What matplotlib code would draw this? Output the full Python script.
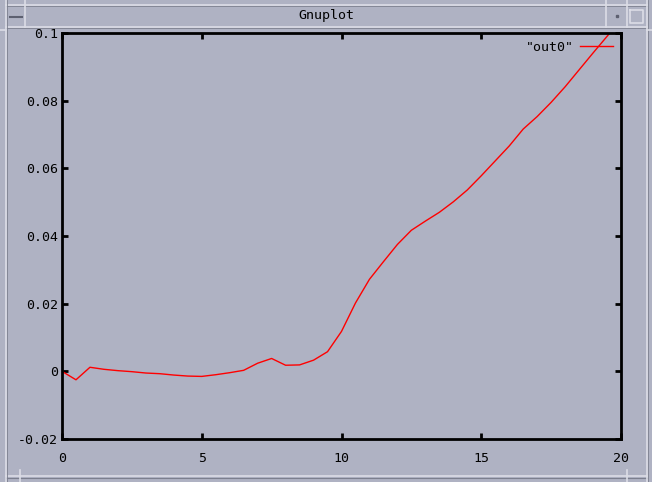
import matplotlib
matplotlib.use('Agg')
import matplotlib.pyplot as plt

# data
xs = [0, 0.5, 1, 1.5, 2, 2.5, 3, 3.5, 4, 4.5, 5, 5.5, 6, 6.5, 7, 7.5, 8, 8.5, 9, 9.5,
      10, 10.5, 11, 11.5, 12, 12.5, 13, 13.5, 14, 14.5, 15, 15.5, 16, 16.5, 17, 17.5,
      18, 18.5, 19, 19.5, 20]
out0 = [0.0, -0.0025, 0.0012, 0.0006, 0.0002, -0.0001, -0.0005, -0.0007, -0.0011, -0.0014,
        -0.0015, -0.0010, -0.0004, 0.0003, 0.0024, 0.0038, 0.0018, 0.0019, 0.0033, 0.0058,
        0.0118, 0.0202, 0.0272, 0.0324, 0.0375, 0.0417, 0.0444, 0.0470, 0.0501, 0.0536,
        0.0578, 0.0622, 0.0666, 0.0716, 0.0753, 0.0795, 0.0841, 0.0891, 0.0941, 0.0990,
        0.1040]
x_ticks = [0, 5, 10, 15, 20]
y_ticks = [-0.02, 0, 0.02, 0.04, 0.06, 0.08, 0.1]
y_labels = ['-0.02', '0', '0.02', '0.04', '0.06', '0.08', '0.1']

BG = '#afb2c3'
W, H = 652, 482

fig = plt.figure(figsize=(W / 100, H / 100), dpi=100, facecolor=BG)

# window decoration (title bar, frame)
deco = fig.add_axes([0, 0, 1, 1], zorder=0)
deco.set_xlim(0, W)
deco.set_ylim(H, 0)
deco.axis('off')
light = '#dcdde6'
dark = '#7c7f8e'
for y in [5, 27]:
    deco.plot([6, 647], [y, y], color=light, lw=1.2)
    deco.plot([6, 647], [y + 1.2, y + 1.2], color=dark, lw=0.6)
deco.plot([6, 647], [476, 476], color=light, lw=1.2)
deco.plot([6, 647], [477.5, 477.5], color=dark, lw=0.8)
for x in [6, 647]:
    deco.plot([x, x], [0, 482], color=light, lw=1.2)
    deco.plot([x + 1.2, x + 1.2], [0, 482], color=dark, lw=0.6)
for x in [25, 606, 627]:
    deco.plot([x, x], [0, 27], color=light, lw=1.2)
for x in [20, 627]:
    deco.plot([x, x], [470, 482], color=light, lw=1.2)
deco.plot([0, 6], [30, 30], color=light, lw=1.2)
deco.plot([647, 652], [30, 30], color=light, lw=1.2)
deco.plot([10, 22], [17, 17], color='#5d6070', lw=1.5)
deco.plot([630, 643, 643, 630, 630], [10, 10, 23, 23, 10], color=light, lw=1.2)
deco.plot([616.5], [15.5], marker='s', ms=2, color='#5d6070')
deco.text(326, 16, 'Gnuplot', ha='center', va='center', fontsize=9.5,
          family='DejaVu Sans Mono', color='black')

ax = fig.add_axes([62 / W, (H - 439) / H, (621 - 62) / W, (439 - 33) / H], zorder=1)
ax.set_facecolor(BG)
ax.plot(xs, out0, color='#ff0000', lw=1.0, label='"out0"')
ax.set_xlim(0, 20)
ax.set_ylim(-0.02, 0.1)
ax.set_xticks(x_ticks)
ax.set_xticklabels([str(t) for t in x_ticks])
ax.set_yticks(y_ticks)
ax.set_yticklabels(y_labels)
for s in ax.spines.values():
    s.set_linewidth(2)
ax.tick_params(direction='in', length=4, width=2, top=True, right=True,
               labelsize=9.5)
ax.tick_params(axis='x', pad=9)
ax.tick_params(axis='y', pad=3)
for lab in ax.get_xticklabels() + ax.get_yticklabels():
    lab.set_family('DejaVu Sans Mono')

leg = ax.legend(loc='upper right', frameon=False, markerfirst=False,
                handlelength=2.5, borderaxespad=0.3, handletextpad=0.5,
                borderpad=0.3, prop={'family': 'DejaVu Sans Mono', 'size': 9.5})

fig.savefig('out.png', dpi=100, facecolor=BG)
